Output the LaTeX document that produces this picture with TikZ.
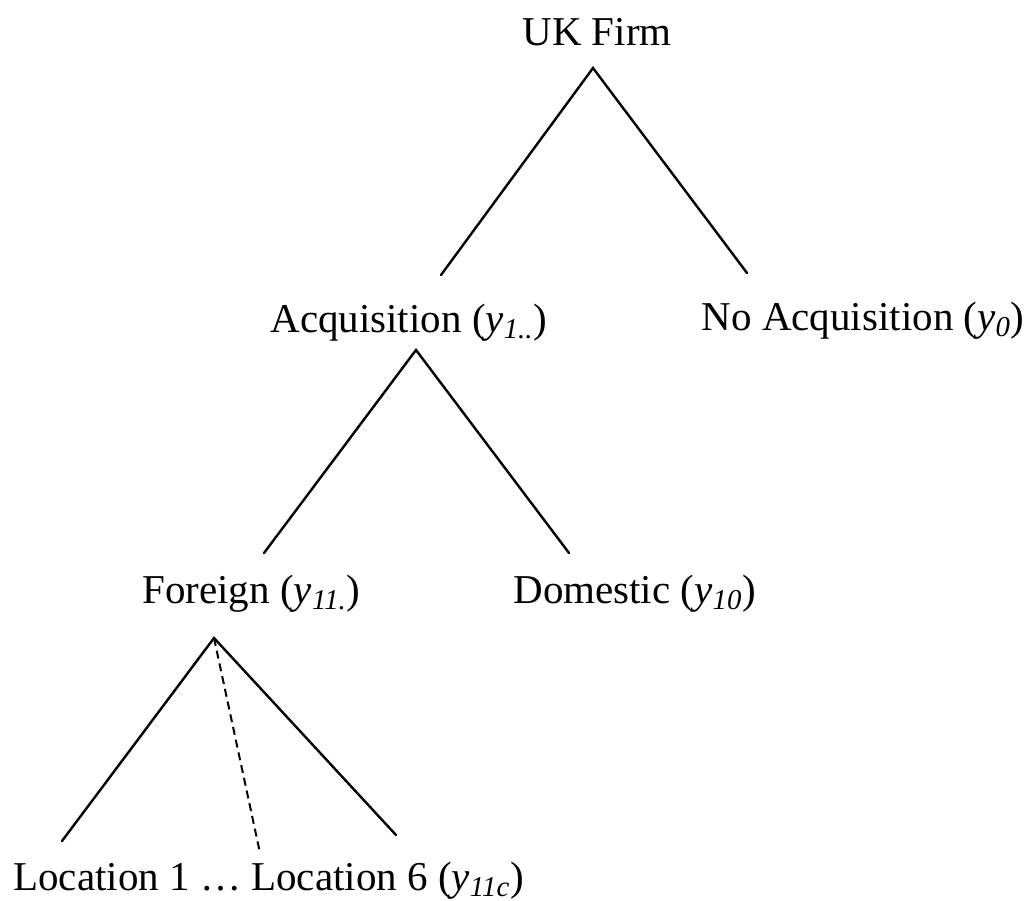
\documentclass[tikz,border=0pt]{standalone}
\usepackage{fontspec}
\setmainfont{Liberation Serif}
\usepackage{tikz}
\usetikzlibrary{calc}
\tikzset{
	treenode/.style = {inner sep=0pt, anchor=base west, font=\fontsize{20.5}{24}\selectfont},
	branch/.style = {line width=1.2pt, line cap=round},
	hiddenbranch/.style = {branch, line width=1pt, line cap=butt, dash pattern=on 4pt off 2.5pt},
}
\newcommand{\ysub}[1]{\textit{y}\textsubscript{\textit{#1}}}

\begin{document}
\begin{tikzpicture}[x=0.5pt, y=-0.5pt]
	\useasboundingbox (0,0) rectangle (1031,900);

	\node[treenode](firm) at (522,45) {UK Firm};
	\node[treenode](acq) at (270,332) {Acquisition (\ysub{1..})};
	\node[treenode, anchor=base east](noacq) at (1025,330) {No Acquisition (\ysub{0})};
	\node[treenode](foreign) at (142,603) {Foreign (\ysub{11.})};
	\node[treenode](domestic) at (513,603) {Domestic (\ysub{10})};
	\node[treenode](loc) at (13,890) {Location 1 … Location 6 (\ysub{11c})};

	% branch tops under the labels
	\coordinate (firm-top) at ($(firm.base west)+(71,23)$);
	\coordinate (acq-top) at ($(acq.base west)+(146,18)$);
	\coordinate (foreign-top) at ($(foreign.base west)+(72,35)$);
	% free ends above the labels
	\coordinate (acq-end) at ($(firm-top)+(-152,207)$);
	\coordinate (noacq-end) at ($(firm-top)+(154,205)$);
	\coordinate (foreign-end) at ($(acq-top)+(-152,203)$);
	\coordinate (domestic-end) at ($(acq-top)+(153,203)$);
	\coordinate (loc1-end) at ($(foreign-top)+(-152,203)$);
	\coordinate (loc6-end) at ($(foreign-top)+(182,197)$);
	\coordinate (locc-end) at ($(foreign-top)+(46,215)$);

	\draw[branch] (acq-end) -- (firm-top) -- (noacq-end);
	\draw[branch] (foreign-end) -- (acq-top) -- (domestic-end);
	\draw[branch] (loc1-end) -- (foreign-top) -- (loc6-end);
	\draw[hiddenbranch] (foreign-top) -- (locc-end);
\end{tikzpicture}
\end{document}
